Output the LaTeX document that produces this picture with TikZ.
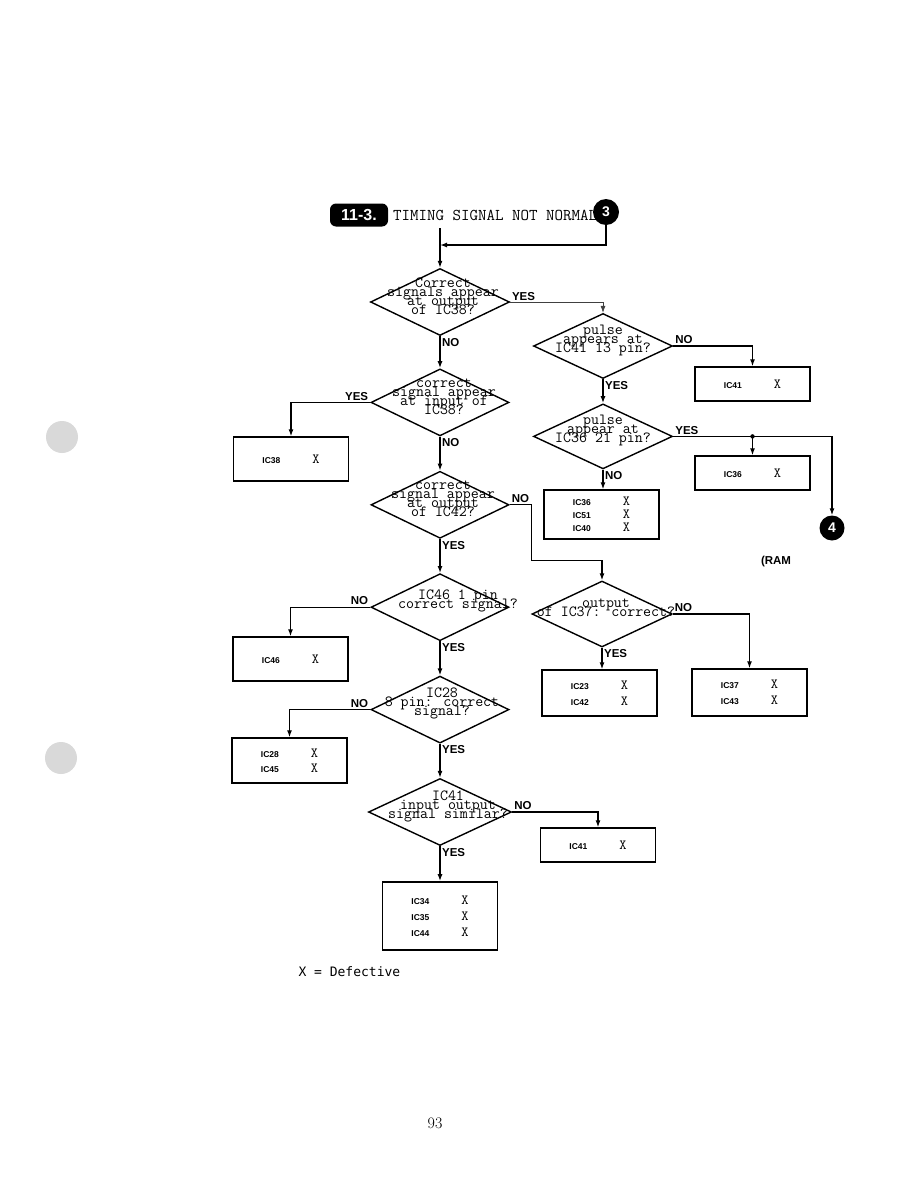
\documentclass[tikz,border=0pt]{standalone}
\usepackage{fontspec}
\usepackage{tikz}
\usetikzlibrary{arrows.meta, positioning, shapes.geometric}

\newfontfamily\lblfont{Liberation Sans}
\newfontfamily\legendfont{DejaVu Sans Mono}

% overlapping lines in the question texts
\newcommand{\tightlines}{\lineskiplimit=-20pt\relax}
% one row of a defect box: IC name, then X
\newcommand{\icrow}[1]{\makebox[50pt][l]{\lblfont\bfseries\fontsize{8.5}{10}\selectfont #1}{\ttfamily\fontsize{14}{14}\selectfont X}}

\begin{document}
\begin{tikzpicture}[
  x=1pt, y=-1pt,
  node distance=34pt,
  dec/.style={diamond, draw, line width=1.4pt, minimum width=138pt, minimum height=67pt, inner sep=0pt},
  dtext/.style={font=\ttfamily\fontsize{15.5}{9}\selectfont\tightlines, align=center, yshift=6pt, inner sep=0pt},
  box/.style={draw, line width=1.4pt, minimum width=115pt, minimum height=34pt, align=center, font=\fontsize{10}{15}\selectfont},
  lbl/.style={font=\lblfont\bfseries\fontsize{11.5}{12}\selectfont, inner sep=1.5pt},
  conn/.style={circle, fill=black, text=white, minimum size=26pt, inner sep=0pt, font=\lblfont\bfseries\fontsize{14}{14}\selectfont},
  badge/.style={fill=black, text=white, rounded corners=6pt, minimum width=58pt, minimum height=23pt, inner sep=0pt, font=\lblfont\bfseries\fontsize{16}{16}\selectfont},
  arrow/.style={-{Latex[length=7pt, width=5pt]}, line width=1.3pt}
]
\useasboundingbox (0,0) rectangle (918,1188);

% punch holes
\fill[gray!30] (62,437) circle (16pt);
\fill[gray!30] (61,758) circle (16pt);

% Header
\node[badge] (tag) at (359,215) {11-3.};
\node[anchor=west, inner sep=0pt, font=\ttfamily\fontsize{16.5}{16.5}\selectfont] (title) at (393,215) {TIMING SIGNAL NOT NORMAL};
\node[conn] (c3) at (606,212) {3};
\coordinate (top) at (440,228);
\coordinate (merge) at (440,245);

% Nodes - left column
\node[dec, minimum width=139pt] (d1) at (440,302) {};
\node[dec, below=32pt of d1] (d4) {};
\node[dec, below=of d4] (d5) {};
\node[dec, below=of d5] (d7) {};
\node[dec, below=of d7] (d8) {};
\node[dec, below=of d8, minimum width=143pt] (d9) {};

\node[box, minimum height=44pt] (b38) at (291,459) {\icrow{IC38}};
\node[box, minimum height=44pt] (b46) at (290.5,659) {\icrow{IC46}};
\node[box, minimum height=45pt] (b28) at (289.5,760.5) {\icrow{IC28}\\\icrow{IC45}};
\node[box, below=35pt of d9, minimum height=68pt, font=\fontsize{10}{16}\selectfont] (b34) {\icrow{IC34}\\\icrow{IC35}\\\icrow{IC44}};

% Nodes - right column
\node[dec, minimum width=139pt, minimum height=65pt] (d2) at (603,346) {};
\node[dec, minimum width=139pt, minimum height=65pt, below=24pt of d2] (d3) {};
\node[dec, minimum width=140pt, minimum height=66pt] (d6) at (602,614) {};

\node[box] (b41) at (752.5,384) {\icrow{IC41}};
\node[box] (b36) at (752.5,473) {\icrow{IC36}};
\node[box, minimum height=49pt, font=\fontsize{10}{13}\selectfont] (b3651) at (601.5,514.5) {\icrow{IC36}\\\icrow{IC51}\\\icrow{IC40}};
\node[box, minimum height=46pt, font=\fontsize{10}{16}\selectfont] (b23) at (599.5,693) {\icrow{IC23}\\\icrow{IC42}};
\node[box, minimum height=47pt, font=\fontsize{10}{16}\selectfont] (b37) at (749.5,692.5) {\icrow{IC37}\\\icrow{IC43}};
\node[box] (b41b) at (598,845) {\icrow{IC41}};
\node[conn, minimum size=25pt] (c4) at (832,528) {4};

% Question texts
\node[dtext, xshift=3pt] at (d1) {Correct\\signals appear\\at output\\of IC38?};
\node[dtext, xshift=4pt] at (d4) {correct\\signal appear\\at  input of\\IC38?};
\node[dtext, xshift=3pt] at (d5) {correct\\signal appear\\at output\\of IC42?};
\node[dtext, xshift=18pt] at (d7) {IC46 1 pin\\correct signal?};
\node[dtext, xshift=2pt] at (d8) {IC28\\8 pin: correct\\signal?};
\node[dtext, xshift=8pt] at (d9) {IC41\\input output\\signal similar?};
\node[dtext] at (d2) {pulse\\appears at\\IC41 13 pin?};
\node[dtext] at (d3) {pulse\\appear at\\IC36 21 pin?};
\node[dtext, xshift=4pt] at (d6) {output\\of IC37: correct?};

% Pointers
\draw[arrow] (top) -- (d1.north);
\draw[arrow] (c3.south) |- (merge);
\draw[arrow, line width=0.6pt, black!75] (d1.east) node[lbl, black, above right] {YES} -| (d2.north);
\draw[arrow] (d1.south) node[lbl, below right] {NO} -- (d4.north);
\draw[arrow] (d4.west) node[lbl, above left] {YES} -| (b38.north);
\draw[arrow] (d4.south) node[lbl, below right] {NO} -- (d5.north);
\draw[arrow] (d5.east) node[lbl, above right] {NO} -| ++(22,56) -| (d6.north);
\draw[arrow] (d5.south) node[lbl, below right] {YES} -- (d7.north);
\draw[arrow] (d7.west) node[lbl, above left] {NO} -| (b46.north);
\draw[arrow] (d7.south) node[lbl, below right] {YES} -- (d8.north);
\draw[arrow] (d8.west) node[lbl, above left] {NO} -| (b28.north);
\draw[arrow] (d8.south) node[lbl, below right] {YES} -- (d9.north);
\draw[arrow] (d9.east) node[lbl, above right] {NO} -| (b41b.north);
\draw[arrow] (d9.south) node[lbl, below right] {YES} -- (d9.south |- b34.north);

\draw[arrow] (d2.east) node[lbl, above right] {NO} -| (b41.north);
\draw[arrow] (d2.south) node[lbl, below right] {YES} -- (d3.north);
\draw[arrow] (d3.east) node[lbl, above right] {YES} -| (c4.north);
\draw[arrow] (d3.east -| b36.north) -- (b36.north);
\fill (d3.east -| b36.north) circle (2.2pt);
\draw[arrow] (d3.south) node[lbl, below right] {NO} -- (d3.south |- b3651.north);
\draw[arrow] (d6.east) node[lbl, above right] {NO} -| (b37.north);
\draw[arrow] (d6.south) node[lbl, below right] {YES} -- (d6.south |- b23.north);

% Notes
\node[lbl] (ram) at (776,562) {(RAM};
\node[anchor=west, font=\legendfont\fontsize{13}{13}\selectfont] (legend) at (295,972) {X = Defective};
\node[font=\fontsize{16}{16}\selectfont] (page) at (435,1123) {93};
\end{tikzpicture}
\end{document}
